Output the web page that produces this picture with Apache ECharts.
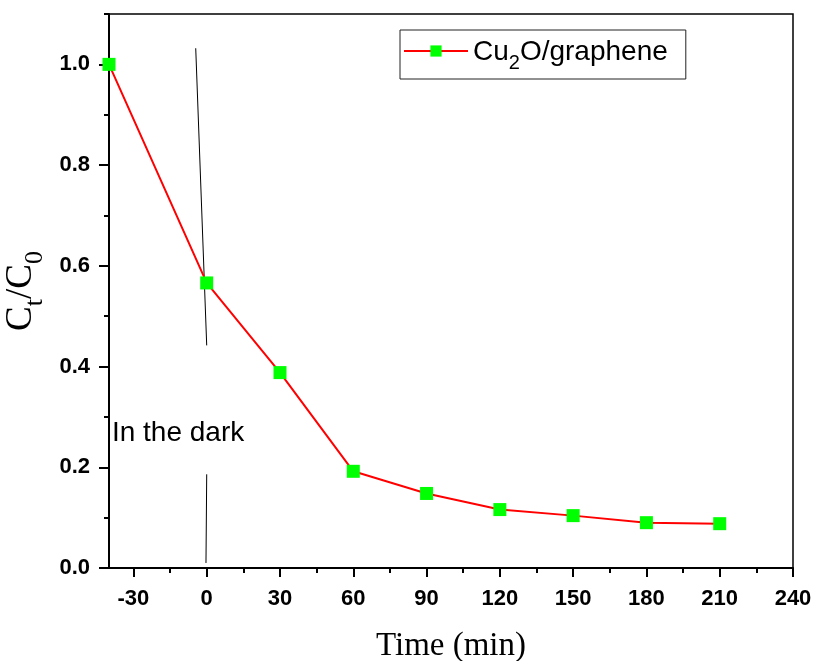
<!DOCTYPE html>
<html>
<head>
<meta charset="utf-8">
<script src="https://cdn.jsdelivr.net/npm/echarts@6/dist/echarts.min.js"></script>
<style>html,body{margin:0;padding:0;background:#fff}#c{width:815px;height:661px}</style>
</head>
<body>
<div id="c"></div>
<script>
const times = [-40, 0, 30, 60, 90, 120, 150, 180, 210];
const ratio = [1.0, 0.566, 0.388, 0.192, 0.148, 0.116, 0.104, 0.09, 0.088];
const xTicks = [-30, 0, 30, 60, 90, 120, 150, 180, 210, 240];
const xMinorTicks = [-15, 15, 45, 75, 105, 135, 165, 195, 225];
const yTicks = [0, 0.2, 0.4, 0.6, 0.8, 1.0];
const yMinorTicks = [0.1, 0.3, 0.5, 0.7, 0.9, 1.1];
const darkLineTop = [[-4.5, 1.032], [0, 0.442]];
const darkLineBottom = [[0, 0.186], [-0.3, 0.01]];
const darkLabel = { x: -38.8, y: 0.267, text: 'In the dark' };

const chart = echarts.init(document.getElementById('c'), null, { renderer: 'canvas' });
const tickFont = { fontFamily: 'Liberation Sans, Arial', fontWeight: 'bold', fontSize: 22, color: '#000' };
const option = {
  animation: false,
  backgroundColor: '#fff',
  grid: { left: 109, right: 22, top: 14, bottom: 93, show: true, borderColor: '#000', borderWidth: 1.5,
    backgroundColor: 'transparent', containLabel: false, outerBoundsMode: 'none' },
  legend: {
    left: 400, top: 30,
    padding: [8, 18, 6, 3],
    borderColor: '#222', borderWidth: 1,
    itemWidth: 64, itemHeight: 14, itemGap: 8,
    formatter: () => '{a|Cu}{s|2}{a|O/graphene}',
    textStyle: {
      rich: {
        a: { fontFamily: 'Liberation Sans, Arial', fontSize: 28, color: '#000', verticalAlign: 'bottom', lineHeight: 30 },
        s: { fontFamily: 'Liberation Sans, Arial', fontSize: 20, color: '#000', verticalAlign: 'bottom', padding: [0, 0, -7, 0], lineHeight: 30 }
      }
    },
    data: ['Cu2O/graphene']
  },
  xAxis: [{
    type: 'value', min: -40, max: 240,
    name: 'Time (min)', nameLocation: 'middle', nameGap: 62,
    nameTextStyle: { fontFamily: 'Liberation Serif, Times New Roman', fontSize: 33, color: '#000' },
    axisLine: { show: true, onZero: false, lineStyle: { color: '#000', width: 2 } },
    axisTick: { show: true, inside: false, length: 9, lineStyle: { color: '#000', width: 2 }, customValues: xTicks },
    axisLabel: Object.assign({ margin: 20, customValues: xTicks }, tickFont),
    splitLine: { show: false }
  }, {
    type: 'value', min: -40, max: 240, position: 'bottom', gridIndex: 0,
    axisLine: { show: false, onZero: false },
    axisTick: { show: true, length: 5, lineStyle: { color: '#000', width: 2 }, customValues: xMinorTicks },
    axisLabel: { show: false, customValues: xMinorTicks },
    splitLine: { show: false }
  }],
  yAxis: [{
    type: 'value', min: 0, max: 1.1,
    name: '{c|C}{s|t}{c|/C}{s|0}', nameLocation: 'middle', nameGap: 66, nameRotate: 90,
    nameTextStyle: {
      rich: {
        c: { fontFamily: 'Liberation Serif, Times New Roman', fontSize: 37, color: '#000', verticalAlign: 'bottom', lineHeight: 38 },
        s: { fontFamily: 'Liberation Serif, Times New Roman', fontSize: 26, color: '#000', verticalAlign: 'bottom', padding: [0, 0, -9, 0], lineHeight: 38 }
      }
    },
    axisLine: { show: true, onZero: false, lineStyle: { color: '#000', width: 2 } },
    axisTick: { show: true, inside: false, length: 10, lineStyle: { color: '#000', width: 2 }, customValues: yTicks },
    axisLabel: Object.assign({ margin: 19, customValues: yTicks, formatter: v => v.toFixed(1) }, tickFont),
    splitLine: { show: false }
  }, {
    type: 'value', min: 0, max: 1.1, position: 'left',
    axisLine: { show: false, onZero: false },
    axisTick: { show: true, length: 5, lineStyle: { color: '#000', width: 2 }, customValues: yMinorTicks },
    axisLabel: { show: false, customValues: yMinorTicks },
    splitLine: { show: false }
  }],
  series: [{
    name: 'Cu2O/graphene', type: 'line',
    data: times.map((t, i) => [t, ratio[i]]),
    symbol: 'rect', symbolSize: 13,
    itemStyle: { color: '#00ff00', borderWidth: 0 },
    lineStyle: { color: '#ff0000', width: 2 },
    z: 5
  }, {
    name: 'darkTop', type: 'line', data: darkLineTop, symbol: 'none',
    lineStyle: { color: '#000', width: 1 }, silent: true, z: 3
  }, {
    name: 'darkBottom', type: 'line', data: darkLineBottom, symbol: 'none',
    lineStyle: { color: '#000', width: 1 }, silent: true, z: 3
  }, {
    name: 'darkText', type: 'scatter', data: [[darkLabel.x, darkLabel.y]], symbolSize: 0,
    itemStyle: { opacity: 1 },
    label: { show: true, position: 'right', distance: 0, formatter: darkLabel.text,
      fontFamily: 'Liberation Sans, Arial', fontSize: 28, color: '#000', opacity: 1 },
    silent: true
  }]
};
chart.setOption(option);
</script>
</body>
</html>
